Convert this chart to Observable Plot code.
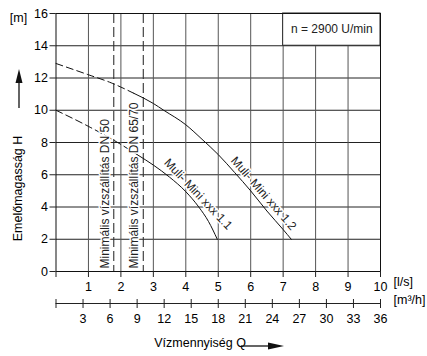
<!DOCTYPE html>
<html><head><meta charset="utf-8">
<script src="https://cdn.jsdelivr.net/npm/d3@7"></script>
<script src="https://cdn.jsdelivr.net/npm/@observablehq/plot@0.6"></script>
<style>body{margin:0;background:#fff;} svg{font-family:"Liberation Sans",Arial,sans-serif;}</style>
</head><body><div id="chart"></div>
<script>
// Axis ticks
const flowTicksLs = [0, 1, 2, 3, 4, 5, 6, 7, 8, 9, 10];
const flowTicksM3h = [0, 3, 6, 9, 12, 15, 18, 21, 24, 27, 30, 33, 36];
const headTicks = [0, 2, 4, 6, 8, 10, 12, 14, 16];
const gridX = [1, 2, 3, 4, 5, 6, 7, 8, 9, 10];
const gridY = [2, 4, 6, 8, 10, 12, 14, 16];
// Pump curves (Q in l/s, H in m)
const curve11DashedQ = [0, 1, 1.9, 2.5];
const curve11DashedH = [10.0, 9.0, 8.0, 7.25];
const curve11Q = [2.5, 3, 3.5, 4, 4.4, 4.7, 4.97];
const curve11H = [7.25, 6.6, 5.85, 4.95, 4.0, 3.1, 2.0];
const curve12DashedQ = [0, 1, 1.7, 2.4];
const curve12DashedH = [12.9, 12.2, 11.7, 11.05];
const curve12Q = [2.4, 3, 3.32, 4, 4.5, 5, 5.5, 6, 6.5, 7, 7.25];
const curve12H = [11.05, 10.42, 10.0, 9.1, 8.2, 7.25, 6.15, 5.0, 3.75, 2.6, 2.0];
// Minimum flow lines
const minFlowQ = [1.78, 2.69];
const minFlowLabels = ["Minimális vízszállítás DN 50", "Minimális vízszállítás DN 65/70"];
// Curve labels
const curveLabels = ["Muli- Mini xxx 1.1", "Muli- Mini xxx 1.2"];
const curveLabelQ = [4.38, 6.4];
const curveLabelH = [4.8, 4.84];
const curveLabelAngle = [46.5, 49];
const speedLabel = "n = 2900 U/min";

const FS = 12.5;
const pts = (Q, H) => Q.map((q, i) => ({q, h: H[i]}));

const plot = Plot.plot({
  width: 427, height: 356,
  marginLeft: 55.5, marginRight: 47, marginTop: 13, marginBottom: 85,
  style: {fontFamily: '"Liberation Sans", Arial, sans-serif', fontSize: FS + "px", background: "white", color: "black"},
  x: {domain: [0, 10], axis: null},
  y: {domain: [0, 16], axis: null},
  marks: [
    Plot.ruleY(gridY, {stroke: "#222", strokeWidth: 1}),
    Plot.ruleX(gridX, {stroke: "#555", strokeWidth: 1}),
    Plot.ruleX(minFlowQ, {stroke: "#333", strokeWidth: 1.1, strokeDasharray: "10,4"}),
    Plot.line(pts(curve11DashedQ, curve11DashedH), {x: "q", y: "h", stroke: "#111", strokeWidth: 1, strokeDasharray: "7,4", curve: "monotone-x"}),
    Plot.line(pts(curve12DashedQ, curve12DashedH), {x: "q", y: "h", stroke: "#111", strokeWidth: 1, strokeDasharray: "7,4", curve: "monotone-x"}),
    Plot.line(pts(curve11Q, curve11H), {x: "q", y: "h", stroke: "#111", strokeWidth: 1, curve: "monotone-x"}),
    Plot.line(pts(curve12Q, curve12H), {x: "q", y: "h", stroke: "#111", strokeWidth: 1, curve: "monotone-x"}),
    Plot.text(minFlowLabels, {x: (d, i) => minFlowQ[i], y: 0, dx: -9, dy: -3, rotate: -90, textAnchor: "start", lineAnchor: "middle", fontSize: FS - 0.5, fill: "#222", stroke: "white", strokeWidth: 3}),
    Plot.text(curveLabels, {x: (d, i) => curveLabelQ[i], y: (d, i) => curveLabelH[i], rotate: (d, i) => curveLabelAngle[i], textAnchor: "middle", lineAnchor: "middle", fontSize: FS - 0.5, fill: "#222", stroke: "white", strokeWidth: 3}),
    Plot.rect([speedLabel], {x1: 7, x2: 10, y1: 14, y2: 16, fill: "white", stroke: "#222"}),
    Plot.text([speedLabel], {x: 8.5, y: 15, textAnchor: "middle", fontSize: FS - 0.5, fill: "#222"}),
    Plot.frame({stroke: "#111"}),
    // primary axes
    Plot.axisY(headTicks, {anchor: "left", label: null, tickSize: 6, tickPadding: 2, fontSize: FS, tickFormat: d => d, stroke: "#222"}),
    Plot.axisX(flowTicksLs, {anchor: "bottom", label: null, tickSize: 6, tickPadding: 5, fontSize: FS, tickFormat: d => d === 0 ? "" : d, stroke: "#222"}),
    // secondary m³/h axis
    Plot.ruleY([0], {x1: 0, x2: 10, dy: 32, stroke: "#222"}),
    Plot.axisX(flowTicksM3h.map(v => v / 3.6), {anchor: "bottom", label: null, dy: 28, tickSize: 9, tickPadding: 6, fontSize: FS, tickFormat: d => { const v = Math.round(d * 3.6); return v === 0 ? "" : v; }, stroke: "#222"}),
    // unit labels
    Plot.text(["[l/s]"], {frameAnchor: "bottom-right", dx: 13, dy: 14, textAnchor: "start", fontSize: FS}),
    Plot.text(["[m³/h]"], {frameAnchor: "bottom-right", dx: 13, dy: 32, textAnchor: "start", fontSize: FS}),
    Plot.text(["[m]"], {frameAnchor: "top-left", dx: -37.5, dy: 0, textAnchor: "middle", fontSize: FS}),
    Plot.text(["Vízmennyiség Q"], {frameAnchor: "bottom", dx: -64, dy: 75, textAnchor: "start", fontSize: FS}),
    Plot.text(["Emelőmagasság H"], {frameAnchor: "left", dx: -38.5, dy: 46, rotate: -90, textAnchor: "middle", fontSize: FS})
  ]
});

// Arrows for axis titles
const svg = d3.select(plot);
svg.append("line").attr("x1", 19).attr("x2", 19).attr("y1", 108).attr("y2", 82).attr("stroke", "#111").attr("stroke-width", 1.3);
svg.append("path").attr("d", "M19,69 L22.5,83 L15.5,83 Z").attr("fill", "#111");
svg.append("line").attr("x1", 241).attr("x2", 269).attr("y1", 346).attr("y2", 346).attr("stroke", "#111").attr("stroke-width", 1.3);
svg.append("path").attr("d", "M284,346 L268,342.5 L268,349.5 Z").attr("fill", "#111");

document.getElementById("chart").appendChild(plot);
</script></body></html>
